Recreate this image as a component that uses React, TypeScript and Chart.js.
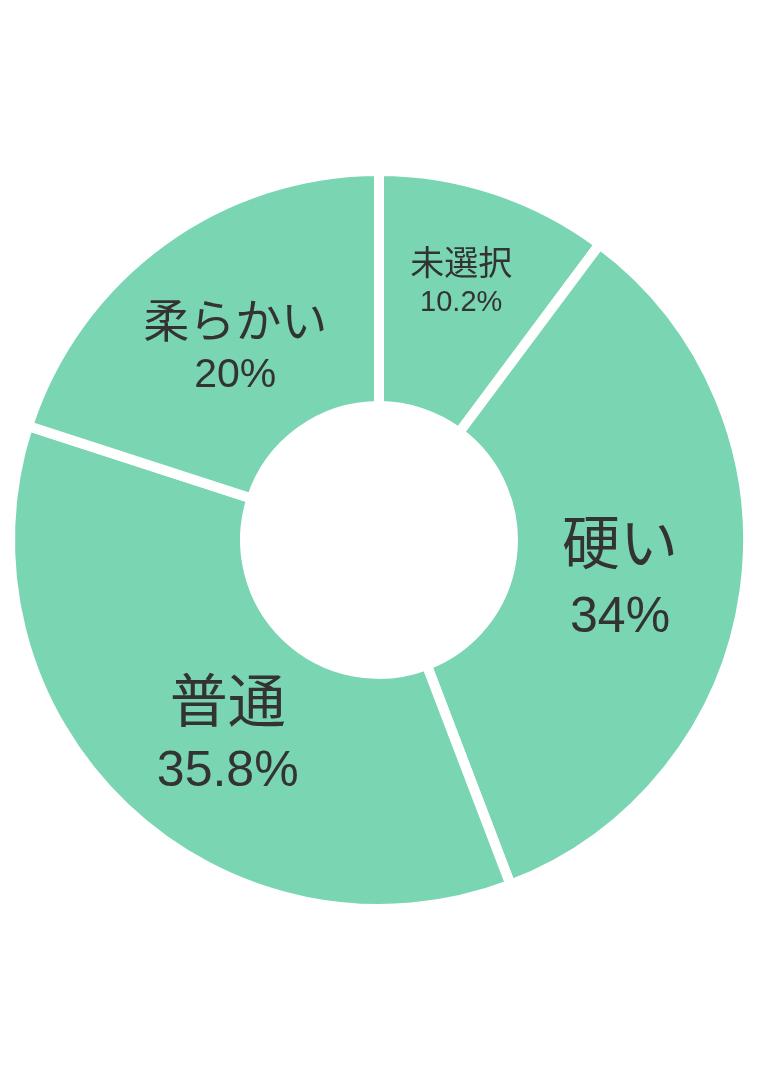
import { useEffect, useRef } from 'react'
import { Chart, registerables } from 'chart.js'

Chart.register(...registerables)

const categories = ['未選択', '硬い', '普通', '柔らかい']
const shares = [10.2, 34, 35.8, 20]
const shareLabels = ['10.2%', '34%', '35.8%', '20%']

// label styling per slice (name size, percent size, gap between lines, nudge)
const nameSizes = [34, 58, 58, 46]
const pctSizes = [29, 50, 50, 41]
const lineGaps = [38, 71, 67, 52]
const nudges = [[3, -20], [-8, 3], [22, 11], [4, 9]]

const sliceLabels = {
  id: 'sliceLabels',
  afterDatasetsDraw(chart: Chart) {
    const { ctx } = chart
    const meta = chart.getDatasetMeta(0)
    ctx.save()
    ctx.fillStyle = '#333333'
    ctx.textAlign = 'center'
    ctx.textBaseline = 'middle'
    meta.data.forEach((arc: any, i: number) => {
      const p = arc.tooltipPosition()
      const x = p.x + nudges[i][0]
      const y = p.y + nudges[i][1]
      ctx.font = `${nameSizes[i]}px "Noto Sans CJK JP", sans-serif`
      ctx.fillText(categories[i], x, y - lineGaps[i] / 2)
      ctx.font = `${pctSizes[i]}px "Liberation Sans", Arial, sans-serif`
      ctx.fillText(shareLabels[i], x, y + lineGaps[i] / 2 + pctSizes[i] * 0.1)
    })
    ctx.restore()
  }
}

export default function App() {
  const ref = useRef<HTMLCanvasElement>(null)

  useEffect(() => {
    if (!ref.current) return
    const chart = new Chart(ref.current, {
      type: 'doughnut',
      data: {
        labels: categories,
        datasets: [{
          data: shares,
          backgroundColor: '#79d5b2',
          borderColor: '#ffffff',
          borderWidth: 10,
          hoverOffset: 0
        }]
      },
      options: {
        animation: false,
        responsive: true,
        maintainAspectRatio: false,
        cutout: '36.3%',
        layout: { padding: { left: 5, right: 5 } },
        plugins: {
          legend: { display: false },
          tooltip: { enabled: false }
        }
      },
      plugins: [sliceLabels]
    })
    return () => chart.destroy()
  }, [])

  return (
    <div style={{ position: 'absolute', left: 0, top: 0, width: 758, height: 1080 }}>
      <canvas ref={ref} />
    </div>
  )
}
